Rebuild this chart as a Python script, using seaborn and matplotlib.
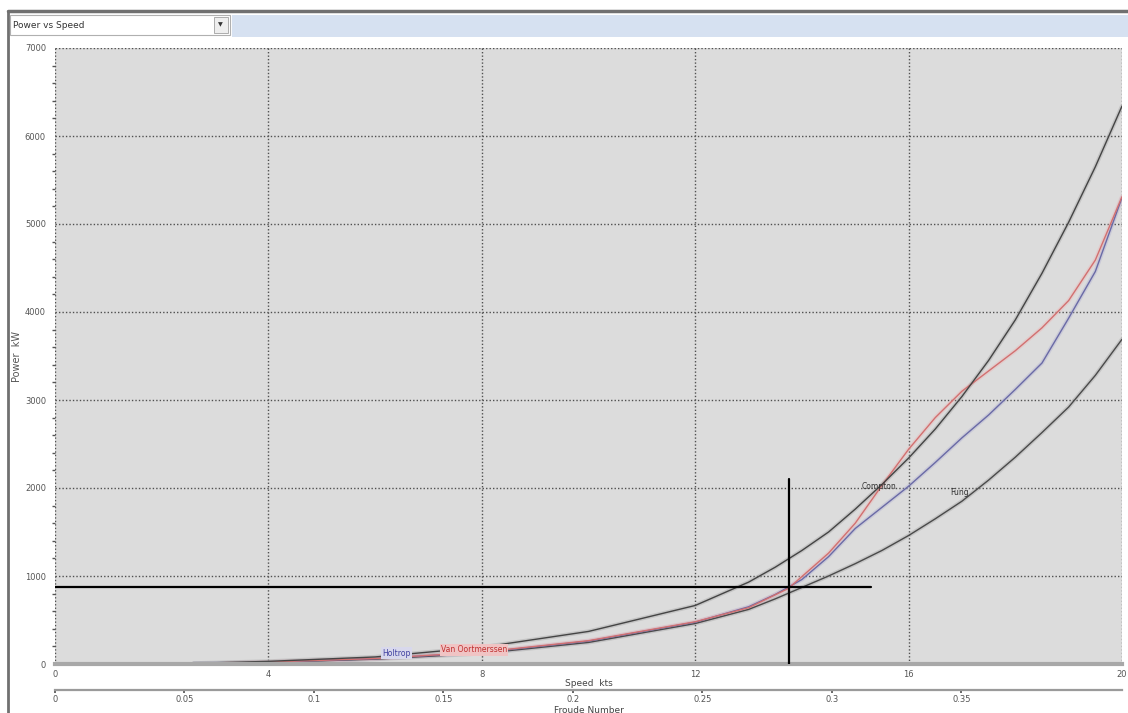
import matplotlib
matplotlib.use("Agg")
import matplotlib.pyplot as plt
import seaborn as sns
import pandas as pd
from matplotlib.patches import Rectangle
from matplotlib.ticker import MultipleLocator

# ---- data ----
speed = [2.6, 4, 6, 8, 10, 12, 13, 13.5, 14, 14.5, 15, 15.5, 16, 16.5, 17, 17.5, 18, 18.5, 19, 19.5, 20]
compton = [8, 30, 80, 190, 370, 665, 930, 1100, 1290, 1500, 1760, 2040, 2340, 2670, 3040, 3450, 3910, 4440, 5020, 5650, 6340]
holtrop = [5, 20, 60, 130, 260, 475, 650, 790, 960, 1220, 1540, 1780, 2020, 2290, 2570, 2830, 3120, 3420, 3930, 4460, 5300]
fung = [5, 18, 55, 120, 245, 460, 620, 740, 870, 1000, 1140, 1290, 1460, 1650, 1850, 2090, 2350, 2630, 2920, 3280, 3690]
vo_speed = [3.2, 4, 6, 8, 10, 12, 13, 13.75, 14.5, 15, 15.5, 16, 16.5, 17, 17.5, 18, 18.5, 19, 19.5, 20]
van_oort = [10, 22, 62, 135, 265, 480, 640, 860, 1260, 1600, 2030, 2440, 2800, 3100, 3330, 3560, 3820, 4130, 4590, 5310]

y_ticks = [0, 1000, 2000, 3000, 4000, 5000, 6000, 7000]
x_ticks = [0, 4, 8, 12, 16, 20]
fn_ticks = [0, 0.05, 0.1, 0.15, 0.2, 0.25, 0.3, 0.35]
fn_per_knot = 0.0206
design_speed = 13.75
design_power = 880
cross_v_top = 2100
cross_h_end = 15.3

sns.set_theme(style="white")
plt.rcParams['font.family'] = ['DejaVu Sans']

fig = plt.figure(figsize=(11.28, 7.13), dpi=100)
fig.patch.set_facecolor("white")

# window chrome
fig.add_artist(plt.Line2D([8/1128, 1], [1-11/713, 1-11/713], color="#707070", lw=2.5, transform=fig.transFigure))
fig.add_artist(plt.Line2D([8/1128, 8/1128], [0, 1-11/713], color="#707070", lw=2, transform=fig.transFigure))
fig.add_artist(Rectangle((232/1128, 1-37/713), (1128-232)/1128, 22/713, transform=fig.transFigure,
                         facecolor="#d6e1f1", edgecolor="none"))
fig.add_artist(Rectangle((10/1128, 1-35/713), 220/1128, 20/713, transform=fig.transFigure,
                         facecolor="white", edgecolor="#b0b0b0", lw=0.8))
fig.add_artist(Rectangle((214/1128, 1-33/713), 14/1128, 16/713, transform=fig.transFigure,
                         facecolor="#eeeeee", edgecolor="#a0a0a0", lw=0.6))
fig.text(220.5/1128, 1-25/713, "▼", fontsize=4.5, ha="center", va="center", color="#333333")
fig.text(13/1128, 1-25/713, "Power vs Speed", fontsize=6.5, ha="left", va="center", color="#333333")

ax = fig.add_axes([55/1128, 1-664/713, (1122-55)/1128, (664-48)/713])
ax.set_facecolor("#dcdcdc")

def draw(xs, ys, color, halo):
    d = pd.DataFrame({"Speed": xs, "Power": ys})
    sns.lineplot(data=d, x="Speed", y="Power", ax=ax, color=halo, lw=3.0, alpha=0.35, zorder=3)
    sns.lineplot(data=d, x="Speed", y="Power", ax=ax, color=color, lw=1.0, zorder=4)

draw(speed, fung, "#4a4a4a", "#9a9a9a")
draw(speed, holtrop, "#6a6aa6", "#a8a8d0")
draw(vo_speed, van_oort, "#d27070", "#f0b0b0")
draw(speed, compton, "#444444", "#9a9a9a")

# crosshair
ax.plot([design_speed, design_speed], [0, cross_v_top], color="black", lw=1.6, zorder=6)
ax.plot([0, cross_h_end], [design_power, design_power], color="black", lw=1.6, zorder=6)

ax.set_xlim(0, 20)
ax.set_ylim(0, 7000)
ax.set_xticks(x_ticks)
ax.set_xticklabels([str(t) for t in x_ticks])
ax.set_yticks(y_ticks)
ax.set_yticklabels([str(t) for t in y_ticks])
ax.yaxis.set_minor_locator(MultipleLocator(200))
ax.grid(True, which="major", color="#505050", lw=1.0, ls=(0, (1, 1.5)))
ax.tick_params(axis="both", which="major", labelsize=6, colors="#555555", length=3, direction="out")
ax.tick_params(axis="y", which="minor", length=2, color="#555555", left=True)
ax.tick_params(axis="x", pad=1)
for s in ["top", "right", "left"]:
    ax.spines[s].set_visible(False)
ax.spines["bottom"].set_color("#a8a8a8")
ax.spines["bottom"].set_linewidth(3)
ax.spines["bottom"].set_zorder(5)

ax.set_xlabel("Speed  kts", fontsize=6.5, color="#444444", labelpad=0)
ax.set_ylabel("Power  kW", fontsize=7, color="#555555", labelpad=2)

# curve labels
ax.text(6.4, 125, "Holtrop", fontsize=5.5, color="#4040a0", ha="center", va="center", zorder=7,
        bbox=dict(boxstyle="square,pad=0.15", facecolor="#d8d8ec", edgecolor="none"))
ax.text(7.85, 160, "Van Oortmerssen", fontsize=5.5, color="#c03030", ha="center", va="center", zorder=7,
        bbox=dict(boxstyle="square,pad=0.15", facecolor="#f0c4c4", edgecolor="none"))
ax.text(15.45, 2020, "Compton", fontsize=5.5, color="#333333", ha="center", va="center", zorder=7)
ax.text(16.95, 1950, "Fung", fontsize=5.5, color="#333333", ha="center", va="center", zorder=7)

# Froude number axis
sec = ax.secondary_xaxis(-0.042, functions=(lambda v: v * fn_per_knot, lambda f: f / fn_per_knot))
sec.set_xticks(fn_ticks)
sec.set_xticklabels(["0" if t == 0 else f"{t:g}" for t in fn_ticks])
sec.tick_params(labelsize=6, colors="#555555", length=2, pad=2)
sec.spines["bottom"].set_color("#9a9a9a")
sec.spines["bottom"].set_linewidth(1.6)
sec.set_xlabel("Froude Number", fontsize=6.5, color="#444444", labelpad=1)

fig.savefig("out.png", dpi=100, facecolor="white")
